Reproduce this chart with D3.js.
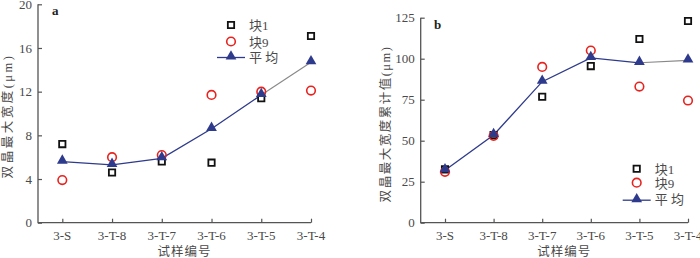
<!DOCTYPE html>
<html>
<head>
<meta charset="utf-8">
<script src="https://cdn.jsdelivr.net/npm/d3@7"></script>
<style>
  body { margin: 0; background: #fff; }
  svg text { font-family: "Liberation Serif", "Noto Sans CJK SC", serif; fill: #4a4a4a; }
</style>
</head>
<body>
<div id="chart"></div>
<script>
// data
var samples = ["3-S", "3-T-8", "3-T-7", "3-T-6", "3-T-5", "3-T-4"];

var widthBlock1 = [7.2, 4.6, 5.6, 5.5, 11.4, 17.1];
var widthBlock9 = [3.9, 6.0, 6.2, 11.7, 12.0, 12.1];
var widthMean   = [5.6, 5.3, 5.9, 8.6, 11.7, 14.7];

var cumBlock1 = [32.5, 53.5, 76.8, 95.5, 112, 123];
var cumBlock9 = [31, 53, 95, 105, 83, 74.5];
var cumMean   = [32, 53.5, 86, 100.5, 97.5, 99];

var ticksA = [0, 4, 8, 12, 16, 20];
var ticksB = [0, 25, 50, 75, 100, 125];

var axisColor = "#555";
var meanColor = "#2e3a8c";
var redColor = "#e8231f";

var svg = d3.select("#chart").append("svg")
    .attr("width", 700)
    .attr("height", 258);

function panel(opt) {
    var g = svg.append("g");

    var x = d3.scalePoint().domain(samples).range([opt.x0 + opt.pad, opt.x1]);
    var y = d3.scaleLinear().domain([0, opt.max]).range([222.7, opt.top]);

    // y axis, ticks point inward
    var yAxis = d3.axisRight(y).tickValues(opt.ticks).tickSize(4).tickFormat(d3.format("d"));
    var gy = g.append("g")
        .attr("transform", "translate(" + opt.x0 + ",0)")
        .call(yAxis);
    gy.select(".domain").remove();
    gy.selectAll("line").attr("stroke", axisColor).attr("stroke-width", 1.2);
    gy.selectAll("text")
        .attr("x", -6)
        .style("text-anchor", "end")
        .style("font-size", "13px");

    // x axis, ticks point up
    var xAxis = d3.axisTop(x).tickSize(4).tickFormat("");
    var gx = g.append("g")
        .attr("transform", "translate(0," + y(0) + ")")
        .call(xAxis);
    gx.select(".domain").remove();
    gx.selectAll("line").attr("stroke", axisColor).attr("stroke-width", 1.2);

    g.selectAll(".xlab")
        .data(samples)
        .enter().append("text")
        .attr("x", d => x(d))
        .attr("y", y(0) + 17)
        .style("text-anchor", "middle")
        .style("font-size", "13px")
        .text(d => d);

    // axis lines
    g.append("path")
        .attr("d", "M" + opt.x0 + "," + y(opt.max) + "V" + y(0) + "H" + opt.x1)
        .attr("fill", "none")
        .attr("stroke", axisColor)
        .attr("stroke-width", 1.3);

    // mean line: blue up to 3-T-5, grey last segment
    var pts = samples.map((s, i) => [x(s), y(opt.mean[i])]);
    g.append("path")
        .attr("d", d3.line()(pts.slice(0, 5)))
        .attr("fill", "none")
        .attr("stroke", meanColor)
        .attr("stroke-width", 1.3);
    g.append("path")
        .attr("d", d3.line()(pts.slice(4)))
        .attr("fill", "none")
        .attr("stroke", "#888")
        .attr("stroke-width", 1.1);

    var sq = d3.symbol().type(d3.symbolSquare).size(40);
    var tri = d3.symbol().type(d3.symbolTriangle).size(50);

    g.selectAll(".b1")
        .data(opt.b1)
        .enter().append("path")
        .attr("d", sq)
        .attr("transform", (d, i) => "translate(" + x(samples[i]) + "," + y(d) + ")")
        .attr("fill", "#fff")
        .attr("stroke", "#111")
        .attr("stroke-width", 1.8);

    g.selectAll(".b9")
        .data(opt.b9)
        .enter().append("circle")
        .attr("cx", (d, i) => x(samples[i]))
        .attr("cy", d => y(d))
        .attr("r", 4.3)
        .attr("fill", "none")
        .attr("stroke", redColor)
        .attr("stroke-width", 1.6);

    g.selectAll(".mean")
        .data(opt.mean)
        .enter().append("path")
        .attr("d", tri)
        .attr("transform", (d, i) => "translate(" + x(samples[i]) + "," + (y(d) - 1) + ")")
        .attr("fill", meanColor);

    // panel letter
    g.append("text")
        .attr("x", opt.letterX)
        .attr("y", opt.letterY)
        .style("font-weight", "bold")
        .style("font-size", "13px")
        .style("fill", "#222")
        .text(opt.letter);

    // axis titles
    g.append("text")
        .attr("transform", "translate(" + opt.ylabX + "," + opt.ylabY + ") rotate(-90)")
        .style("text-anchor", "middle")
        .style("font-size", "12.5px")
        .style("letter-spacing", opt.ylabSpace)
        .text(opt.ylab);
    g.append("text")
        .attr("x", (opt.x0 + opt.x1) / 2 + 10)
        .attr("y", 256)
        .style("text-anchor", "middle")
        .style("font-size", "12.5px")
        .style("letter-spacing", "1px")
        .text("试样编号");

    // legend
    var lx = opt.legX, ly = opt.legY;
    g.append("path")
        .attr("d", sq)
        .attr("transform", "translate(" + lx + "," + ly + ")")
        .attr("fill", "#fff").attr("stroke", "#111").attr("stroke-width", 1.8);
    g.append("circle")
        .attr("cx", lx).attr("cy", ly + opt.legGap[0]).attr("r", 4.3)
        .attr("fill", "none").attr("stroke", redColor).attr("stroke-width", 1.6);
    g.append("line")
        .attr("x1", lx - 14).attr("x2", lx + 14)
        .attr("y1", ly + opt.legGap[1] + 1).attr("y2", ly + opt.legGap[1] + 1)
        .attr("stroke", meanColor).attr("stroke-width", 1.3);
    g.append("path")
        .attr("d", tri)
        .attr("transform", "translate(" + lx + "," + (ly + opt.legGap[1]) + ")")
        .attr("fill", meanColor);
    var names = ["块1", "块9", "平 均"];
    [0, opt.legGap[0], opt.legGap[1]].forEach((dy, i) => {
        g.append("text")
            .attr("x", lx + 18)
            .attr("y", ly + dy + 5)
            .style("font-size", "13px")
            .text(names[i]);
    });
}

panel({
    x0: 38, x1: 311, pad: 24.3, top: 4.3, max: 20,
    ticks: ticksA, b1: widthBlock1, b9: widthBlock9, mean: widthMean,
    letter: "a", letterX: 52, letterY: 15,
    ylab: "双晶最大宽度(μm)", ylabX: 12, ylabY: 116, ylabSpace: "2.5px",
    legX: 231, legY: 25, legGap: [16.5, 31.5]
});

panel({
    x0: 420.7, x1: 688, pad: 24.3, top: 17.7, max: 125,
    ticks: ticksB, b1: cumBlock1, b9: cumBlock9, mean: cumMean,
    letter: "b", letterX: 434, letterY: 29,
    ylab: "双晶最大宽度累计值(μm)", ylabX: 390, ylabY: 124, ylabSpace: "1.5px",
    legX: 636.7, legY: 168.7, legGap: [14, 30.5]
});
</script>
</body>
</html>
